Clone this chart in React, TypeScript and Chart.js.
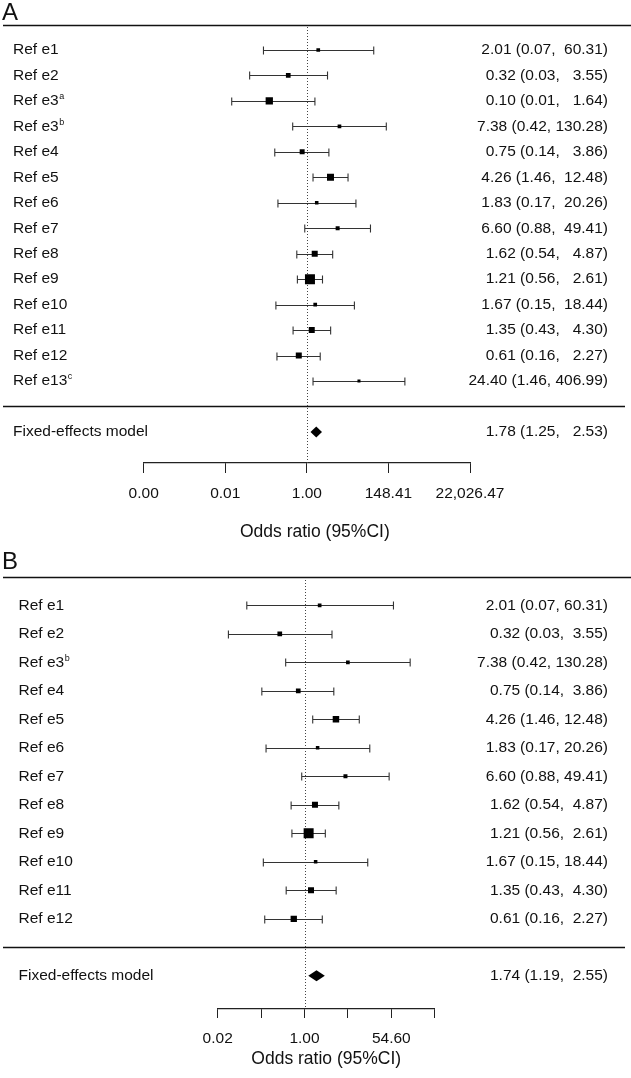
import React, { useEffect, useRef } from 'react';
import { Chart, registerables } from 'chart.js';

Chart.register(...registerables);

const FONT = '"Liberation Sans", Arial, Helvetica, sans-serif';

// ---------- Panel A data ----------
const studiesA = ['Ref e1', 'Ref e2', 'Ref e3', 'Ref e3', 'Ref e4', 'Ref e5', 'Ref e6', 'Ref e7', 'Ref e8', 'Ref e9', 'Ref e10', 'Ref e11', 'Ref e12', 'Ref e13'];
const supA = ['', '', 'a', 'b', '', '', '', '', '', '', '', '', '', 'c'];
const orA = [2.01, 0.32, 0.10, 7.38, 0.75, 4.26, 1.83, 6.60, 1.62, 1.21, 1.67, 1.35, 0.61, 24.40];
const loA = [0.07, 0.03, 0.01, 0.42, 0.14, 1.46, 0.17, 0.88, 0.54, 0.56, 0.15, 0.43, 0.16, 1.46];
const hiA = [60.31, 3.55, 1.64, 130.28, 3.86, 12.48, 20.26, 49.41, 4.87, 2.61, 18.44, 4.30, 2.27, 406.99];
const weightA = [3.4, 5.5, 13.3, 3.4, 6.2, 12.2, 3.1, 4.0, 9.0, 25.0, 3.4, 9.0, 9.0, 2.3];
const pooledA = [1.78, 1.25, 2.53];
const tickLogA = [-10, -5, 0, 5, 10];
const tickLabelsA = ['0.00', '0.01', '1.00', '148.41', '22,026.47'];

// ---------- Panel B data ----------
const studiesB = ['Ref e1', 'Ref e2', 'Ref e3', 'Ref e4', 'Ref e5', 'Ref e6', 'Ref e7', 'Ref e8', 'Ref e9', 'Ref e10', 'Ref e11', 'Ref e12'];
const supB = ['', '', 'b', '', '', '', '', '', '', '', '', ''];
const orB = [2.01, 0.32, 7.38, 0.75, 4.26, 1.83, 6.60, 1.62, 1.21, 1.67, 1.35, 0.61];
const loB = [0.07, 0.03, 0.42, 0.14, 1.46, 0.17, 0.88, 0.54, 0.56, 0.15, 0.43, 0.16];
const hiB = [60.31, 3.55, 130.28, 3.86, 12.48, 20.26, 49.41, 4.87, 2.61, 18.44, 4.30, 2.27];
const weightB = [3.4, 5.5, 3.4, 5.5, 10.5, 3.1, 4.0, 9.0, 25.0, 3.1, 9.0, 10.0];
const pooledB = [1.74, 1.19, 2.55];
const tickLogB = [-4, -2, 0, 2, 4, 6];
const tickLabelsB = ['0.02', '', '1.00', '', '54.60', ''];

const axisTitle = 'Odds ratio (95%CI)';
const pooledLabel = 'Fixed-effects model';

type Panel = {
  letter: string;
  studies: string[];
  sups: string[];
  or: number[];
  lo: number[];
  hi: number[];
  weight: number[];
  pooled: number[];
  tickLog: number[];
  tickLabels: string[];
  padWidth: number;
  top: number;
  height: number;
  padL: number;
  padR: number;
  padT: number;
  yMin: number;
  yMax: number;
  tickLen: number;
  axisHeight: number;
  titleY: number;
  titleDX: number;
  labelX: number;
  letterBaseline: number;
};

const panels: Panel[] = [
  {
    letter: 'A', studies: studiesA, sups: supA, or: orA, lo: loA, hi: hiA, weight: weightA,
    pooled: pooledA, tickLog: tickLogA, tickLabels: tickLabelsA, padWidth: 6,
    top: 0, height: 543, padL: 143.7, padR: 161, padT: 27, yMin: -0.903, yMax: 16.22,
    tickLen: 10, axisHeight: 80, titleY: 532.5, titleDX: 8, labelX: 13, letterBaseline: 20,
  },
  {
    letter: 'B', studies: studiesB, sups: supB, or: orB, lo: loB, hi: hiB, weight: weightB,
    pooled: pooledB, tickLog: tickLogB, tickLabels: tickLabelsB, padWidth: 5,
    top: 543, height: 535, padL: 217.7, padR: 196.3, padT: 37, yMin: -0.888, yMax: 14.165,
    tickLen: 9, axisHeight: 69, titleY: 516, titleDX: 0, labelX: 18.5, letterBaseline: 26,
  },
];

const fmt = (v: number) => v.toFixed(2);
const estText = (o: number, l: number, h: number, w: number) =>
  `${fmt(o)} (${fmt(l)}, ${fmt(h).padStart(w, ' ')})`;

function makePlugin(p: Panel) {
  return {
    id: 'forest' + p.letter,
    beforeDatasetsDraw(chart: any) {
      const { ctx, chartArea, width } = chart;
      const xs = chart.scales.x;
      const ys = chart.scales.y;
      const n = p.studies.length;
      ctx.save();

      // panel letter
      ctx.fillStyle = '#111';
      ctx.font = `24px ${FONT}`;
      ctx.textAlign = 'left';
      ctx.textBaseline = 'alphabetic';
      ctx.fillText(p.letter, 2, p.letterBaseline);

      // rules
      ctx.strokeStyle = '#111';
      ctx.lineWidth = 1.3;
      const yTop = Math.round(ys.getPixelForValue(-1)) + 0.5;
      ctx.beginPath();
      ctx.moveTo(3, yTop);
      ctx.lineTo(width, yTop);
      ctx.stroke();
      const ySep = Math.round(ys.getPixelForValue(n)) + 0.5;
      ctx.beginPath();
      ctx.moveTo(3, ySep);
      ctx.lineTo(width - 6, ySep);
      ctx.stroke();

      // reference line at OR = 1
      const x0 = Math.round(xs.getPixelForValue(0)) + 0.5;
      ctx.strokeStyle = '#444';
      ctx.lineWidth = 1;
      ctx.setLineDash([1, 2]);
      ctx.beginPath();
      ctx.moveTo(x0, chartArea.top);
      ctx.lineTo(x0, chartArea.bottom);
      ctx.stroke();
      ctx.setLineDash([]);

      // whiskers
      ctx.strokeStyle = '#333';
      ctx.lineWidth = 1.1;
      for (let i = 0; i < n; i++) {
        const y = Math.round(ys.getPixelForValue(i)) + 0.5;
        const xl = xs.getPixelForValue(Math.log(p.lo[i]));
        const xh = xs.getPixelForValue(Math.log(p.hi[i]));
        ctx.beginPath();
        ctx.moveTo(xl, y);
        ctx.lineTo(xh, y);
        ctx.moveTo(xl, y - 4);
        ctx.lineTo(xl, y + 4);
        ctx.moveTo(xh, y - 4);
        ctx.lineTo(xh, y + 4);
        ctx.stroke();
      }

      // pooled diamond
      const yp = ys.getPixelForValue(n + 1);
      const [po, pl, ph] = p.pooled;
      ctx.fillStyle = '#000';
      ctx.beginPath();
      ctx.moveTo(xs.getPixelForValue(Math.log(pl)), yp);
      ctx.lineTo(xs.getPixelForValue(Math.log(po)), yp - 5.5);
      ctx.lineTo(xs.getPixelForValue(Math.log(ph)), yp);
      ctx.lineTo(xs.getPixelForValue(Math.log(po)), yp + 5.5);
      ctx.closePath();
      ctx.fill();

      // text columns
      ctx.fillStyle = '#111';
      ctx.textBaseline = 'middle';
      const rowFont = `15.5px ${FONT}`;
      for (let i = 0; i < n; i++) {
        const y = ys.getPixelForValue(i);
        ctx.font = rowFont;
        ctx.textAlign = 'left';
        ctx.fillText(p.studies[i], p.labelX, y);
        if (p.sups[i]) {
          const w = ctx.measureText(p.studies[i]).width;
          ctx.font = `9px ${FONT}`;
          ctx.fillText(p.sups[i], p.labelX + w + 0.5, y - 4);
          ctx.font = rowFont;
        }
        ctx.textAlign = 'right';
        ctx.fillText(estText(p.or[i], p.lo[i], p.hi[i], p.padWidth), 608, y);
      }
      ctx.textAlign = 'left';
      ctx.fillText(pooledLabel, p.labelX, yp);
      ctx.textAlign = 'right';
      ctx.fillText(estText(po, pl, ph, p.padWidth), 608, yp);

      // axis title
      ctx.font = `17.5px ${FONT}`;
      ctx.textAlign = 'center';
      ctx.fillText(axisTitle, (xs.left + xs.right) / 2 + p.titleDX, p.titleY);

      ctx.restore();
    },
  };
}

function ForestPanel({ p }: { p: Panel }) {
  const ref = useRef<HTMLCanvasElement>(null);
  useEffect(() => {
    const canvas = ref.current!;
    const radii = p.weight.map((w) => (2 * Math.sqrt(w)) / Math.SQRT2);
    const chart = new Chart(canvas, {
      type: 'scatter',
      data: {
        datasets: [
          {
            data: p.or.map((v, i) => ({ x: Math.log(v), y: i })),
            pointStyle: 'rect',
            pointRadius: radii,
            pointHoverRadius: radii,
            backgroundColor: '#000',
            borderWidth: 0,
            showLine: false,
          },
        ],
      },
      options: {
        animation: false,
        responsive: false,
        devicePixelRatio: 1,
        events: [],
        layout: { padding: { left: p.padL, right: p.padR, top: p.padT, bottom: 0 } },
        plugins: { legend: { display: false }, tooltip: { enabled: false } },
        scales: {
          x: {
            type: 'linear',
            position: 'bottom',
            min: p.tickLog[0],
            max: p.tickLog[p.tickLog.length - 1],
            afterBuildTicks: (s: any) => {
              s.ticks = p.tickLog.map((v) => ({ value: v }));
            },
            afterFit: (s: any) => {
              s.height = p.axisHeight;
            },
            ticks: {
              autoSkip: false,
              maxRotation: 0,
              padding: 11.7,
              color: '#111',
              font: { family: FONT, size: 15.5 },
              callback: (_v: any, i: number) => p.tickLabels[i],
            },
            grid: { drawOnChartArea: false, drawTicks: true, tickLength: p.tickLen, color: '#222', lineWidth: 1 },
            border: { display: true, color: '#222', width: 1.2 },
            title: { display: false, text: axisTitle },
          },
          y: { type: 'linear', display: false, reverse: true, min: p.yMin, max: p.yMax },
        },
      },
      plugins: [makePlugin(p)],
    } as any);
    return () => chart.destroy();
  }, [p]);
  return (
    <canvas
      ref={ref}
      width={631}
      height={p.height}
      style={{ position: 'absolute', left: 0, top: p.top, width: 631, height: p.height, display: 'block' }}
    />
  );
}

export default function App() {
  return (
    <div style={{ position: 'absolute', left: 0, top: 0, width: 631, height: 1078, background: '#fff', overflow: 'hidden' }}>
      {panels.map((p) => (
        <ForestPanel key={p.letter} p={p} />
      ))}
    </div>
  );
}
